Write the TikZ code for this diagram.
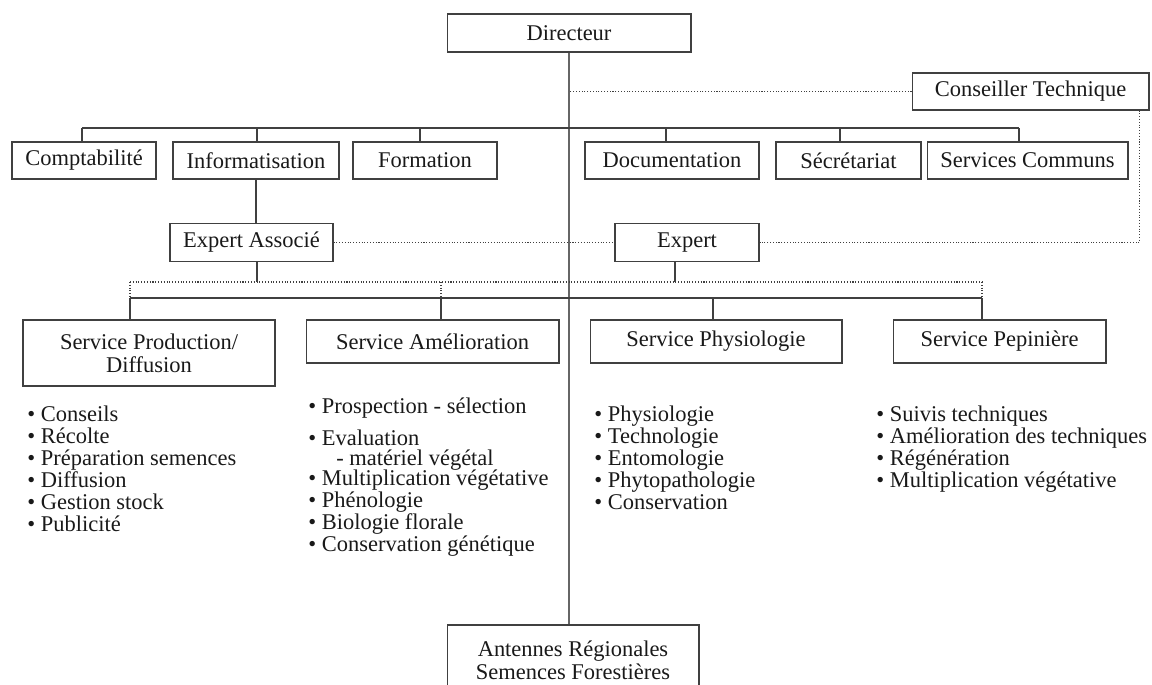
\documentclass[tikz,border=0pt]{standalone}
\usepackage{fontspec}
\setmainfont{Liberation Serif}
\begin{document}
\begin{tikzpicture}[x=0.02cm, y=-0.02cm]
	\tikzstyle{unit}=[draw=black!75, line width=0.6pt, inner sep=0pt, align=center, text=black!90, font=\fontsize{12.8pt}{13pt}\selectfont]
	\tikzstyle{link}=[draw=black!75, line width=0.6pt]
	\tikzstyle{staff}=[link, densely dotted]
	\tikzstyle{trunk}=[draw=black!60, line width=0.9pt]
	\tikzstyle{tasks}=[anchor=north west, inner sep=0pt, align=left, text=black!90, font=\fontsize{12.8pt}{12.5pt}\selectfont]
	\useasboundingbox (0,0) rectangle (1152,684);

	% direction
	\node [unit, minimum width=4.88cm, minimum height=0.76cm] (dir) at (569,33) {Directeur};
	\node [unit, minimum width=4.74cm, minimum height=0.74cm] (cons) at (1030.5,91.5) {Conseiller Technique};

	% services rattaches
	\node [unit, minimum width=2.88cm, minimum height=0.74cm] (compta) at (84,160.5) {Comptabilité};
	\node [unit, minimum width=3.32cm, minimum height=0.74cm] (info) at (256,160.5) {Informatisation};
	\node [unit, minimum width=2.88cm, minimum height=0.74cm] (form) at (425,160.5) {Formation};
	\node [unit, minimum width=3.48cm, minimum height=0.74cm] (doc) at (672,160.5) {Documentation};
	\node [unit, minimum width=2.90cm, minimum height=0.74cm] (secr) at (848.5,160.5) {Sécrétariat};
	\node [unit, minimum width=4.02cm, minimum height=0.74cm] (servc) at (1027.5,160.5) {Services Communs};

	% experts
	\node [unit, minimum width=3.26cm, minimum height=0.76cm] (expa) at (251.5,242.5) {Expert Associé};
	\node [unit, minimum width=2.88cm, minimum height=0.76cm] (expert) at (687,242.5) {Expert};

	% services techniques
	\node [unit, minimum width=5.04cm, minimum height=1.32cm] (prod) at (149,353) {Service Production/\\Diffusion};
	\node [unit, minimum width=5.06cm, minimum height=0.86cm] (amel) at (432.5,341.5) {Service Amélioration};
	\node [unit, minimum width=5.04cm, minimum height=0.86cm] (phys) at (716,341.5) {Service Physiologie};
	\node [unit, minimum width=4.26cm, minimum height=0.86cm] (pep) at (999.5,341.5) {Service Pepinière};

	\node [unit, minimum width=5.04cm, minimum height=1.40cm] (ant) at (573,660) {Antennes Régionales\\Semences Forestières};

	% activites
	\node [tasks] (l1) at (27,406) {• Conseils\\• Récolte\\• Préparation semences\\• Diffusion\\• Gestion stock\\• Publicité};
	\node [tasks] (l2) at (308,397) {• Prospection - sélection\\[0.22cm]• Evaluation\\[-0.05cm]\hspace*{0.56cm}- matériel végétal\\[-0.04cm]• Multiplication végétative\\• Phénologie\\• Biologie florale\\• Conservation génétique};
	\node [tasks] (l3) at (594,406) {• Physiologie\\• Technologie\\• Entomologie\\• Phytopathologie\\• Conservation};
	\node [tasks] (l4) at (876,406) {• Suivis techniques\\• Amélioration des techniques\\• Régénération\\• Multiplication végétative};

	% liaisons
	\path [trunk] (dir.south) -- (dir.south |- ant.north);
	\path [staff] (cons.west) -- (cons.west -| dir.south);
	\path [staff] ([xshift=-0.2cm]cons.south east) |- (expert.east);
	\path [staff] (expa.east) -- (expert.west);

	\coordinate (b1) at (82,128);
	\coordinate (b2) at (1019,128);
	\path [link] (b1) -- (b2);
	\foreach \x/\n in {82/compta, 257/info, 420/form, 666/doc, 840/secr, 1019/servc}
	{
		\coordinate (t\n) at (\x,128);
		\path [link] (t\n) |- (\n.north);
	}

	\path [link] (info.south) -- (info.south |- expa.north);
	\coordinate (da) at (257,282);
	\coordinate (de) at (675,282);
	\path [link] (da |- expa.south) -- (da);
	\path [link] (de |- expert.south) -- (de);

	\coordinate (d1) at (130,282);
	\coordinate (d2) at (982,282);
	\coordinate (s1) at (130,298);
	\coordinate (s2) at (982,298);
	\path [staff] (d1) -- (d2);
	\path [link] (s1) -- (s2);
	\foreach \x in {130, 441, 982}
		\path [staff] (\x,282) -- (\x,298);
	\foreach \x/\n in {130/prod, 441/amel, 713/phys, 982/pep}
	{
		\coordinate (u\n) at (\x,298);
		\path [link] (u\n) |- (\n.north);
	}
\end{tikzpicture}
\end{document}
